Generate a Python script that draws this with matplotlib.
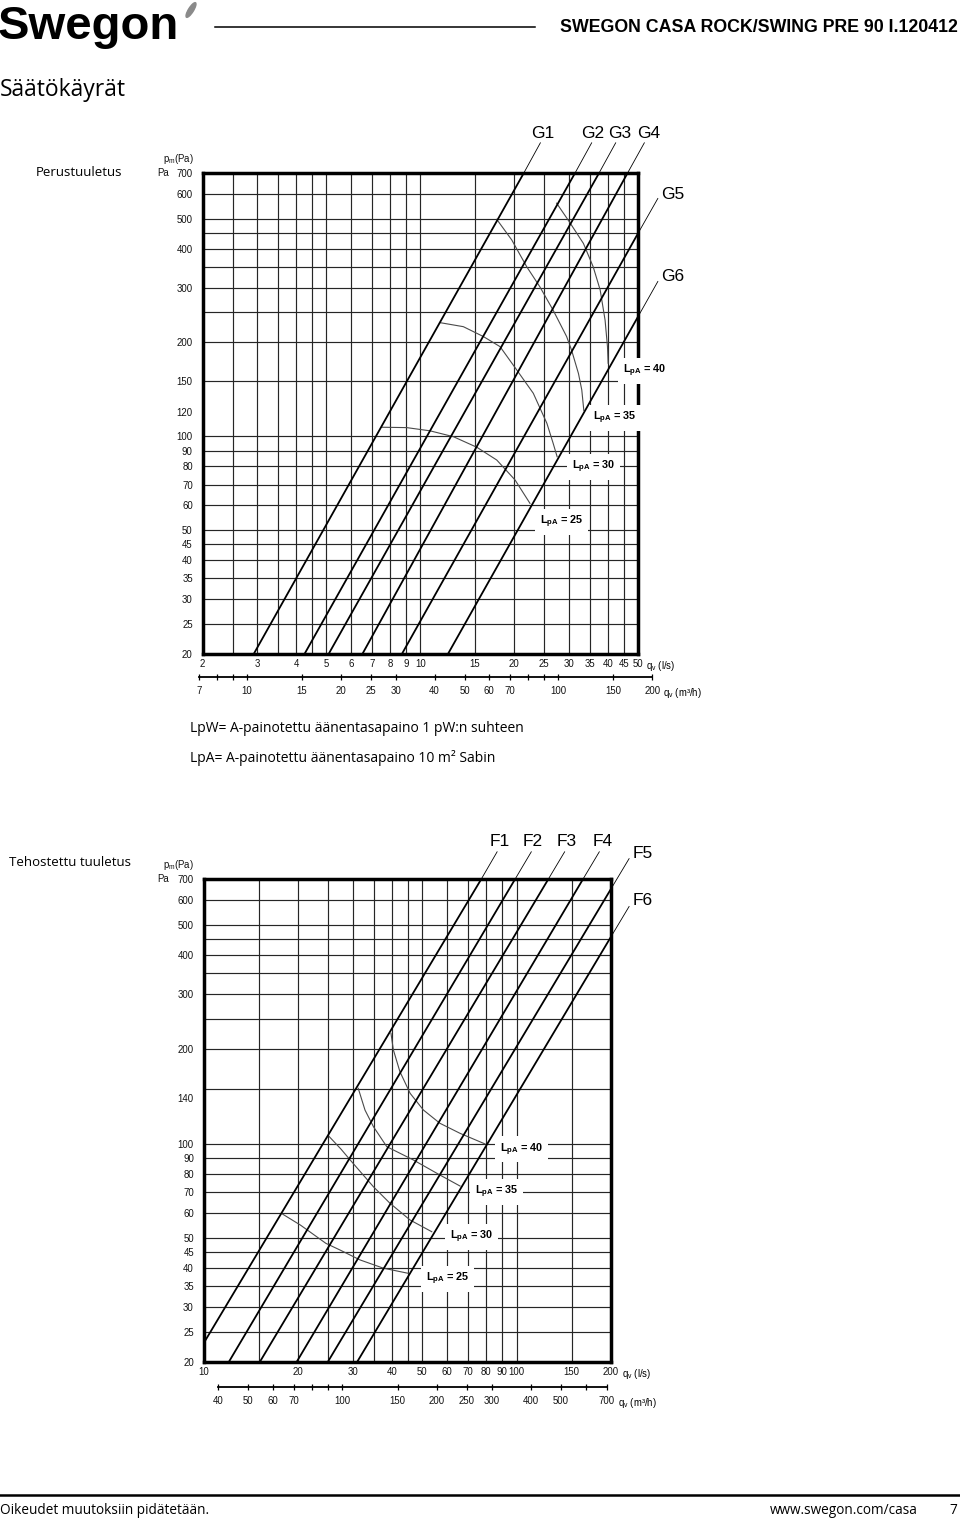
import matplotlib
matplotlib.use('Agg')
import matplotlib.pyplot as plt
from matplotlib.patches import Ellipse
from matplotlib.ticker import NullLocator

plt.rcParams['font.family'] = ['Liberation Sans', 'DejaVu Sans']
plt.rcParams['mathtext.fontset'] = 'custom'
plt.rcParams['mathtext.rm'] = 'Liberation Sans'
plt.rcParams['mathtext.it'] = 'Liberation Sans:italic'
plt.rcParams['mathtext.bf'] = 'Liberation Sans:bold'

# ---------------- chart 1: Perustuuletus ----------------
x1_ticks = [2, 3, 4, 5, 6, 7, 8, 9, 10, 15, 20, 25, 30, 35, 40, 45, 50]
x1_grid = [2.5, 3, 3.5, 4, 4.5, 5, 6, 7, 8, 9, 10, 15, 20, 25, 30, 35, 40, 45]
y1_ticks = [700, 600, 500, 400, 300, 200, 150, 120, 100, 90, 80, 70, 60, 50, 45, 40, 35, 30, 25, 20]
y1_grid = [600, 500, 450, 400, 350, 300, 250, 200, 150, 100, 90, 80, 70, 60, 50, 45, 40, 35, 30, 25]
m1_ticks = [7, 8, 9, 10, 15, 20, 25, 30, 40, 50, 60, 70, 80, 90, 100, 150, 200]
m1_labels = [7, 10, 15, 20, 25, 30, 40, 50, 60, 70, 100, 150, 200]

g_names = ['G1', 'G2', 'G3', 'G4', 'G5', 'G6']
g_q_start = [2.92, 4.25, 5.08, 6.52, 8.73, 12.27]
g_p_start = [20, 20, 20, 20, 20, 20]
g_q_end = [21.5, 31.4, 37.5, 46.3, 50, 50]
g_p_end = [700, 700, 700, 700, 448, 242]
g_q_tip = [24.3, 35.5, 42.4, 52.4, 57.9, 57.9]
g_p_tip = [875, 875, 875, 875, 580, 314]

g_lpa = [40, 35, 30, 25]
g_lpa_q = [[27.4, 30.1, 33.4, 35.9, 37.8, 39.2, 39.9, 40.1],
           [17.6, 19.66, 21.97, 24.2, 26.7, 29.5, 30.6, 32.2, 33.0, 33.5],
           [11.57, 13.75, 15.94, 18.03, 20.4, 23.06, 25.5, 26.7, 27.5],
           [7.52, 9.05, 10.75, 12.77, 15.19, 17.6, 20.15, 22.5]]
g_lpa_p = [[560, 488, 416, 350, 295, 236, 194, 171.5],
           [497, 427, 350, 302, 254, 209, 189, 159, 140.8, 121],
           [231.6, 224.8, 209, 194, 163.3, 137.4, 110, 95, 86],
           [106.9, 106.6, 104.1, 99.7, 92.2, 83.9, 72.4, 60.9]]

# ---------------- chart 2: Tehostettu tuuletus ----------------
x2_ticks = [10, 20, 30, 40, 50, 60, 70, 80, 90, 100, 150, 200]
x2_grid = [15, 20, 25, 30, 35, 40, 45, 50, 60, 70, 80, 90, 100, 150]
y2_ticks = [700, 600, 500, 400, 300, 200, 140, 100, 90, 80, 70, 60, 50, 45, 40, 35, 30, 25, 20]
y2_grid = [600, 500, 450, 400, 350, 300, 250, 200, 150, 100, 90, 80, 70, 60, 50, 45, 40, 35, 30, 25]
m2_ticks = [40, 50, 60, 70, 80, 90, 100, 150, 200, 250, 300, 400, 500, 600, 700]
m2_labels = [40, 50, 60, 70, 100, 150, 200, 250, 300, 400, 500, 700]

f_names = ['F1', 'F2', 'F3', 'F4', 'F5', 'F6']
f_q_start = [10, 12.02, 15.1, 19.8, 24.9, 30.9]
f_p_start = [23, 20, 20, 20, 20, 20]
f_q_end = [77.1, 98.9, 126.3, 163, 200, 200]
f_p_end = [700, 700, 700, 700, 650, 457]
f_q_tip = [86.7, 111.5, 142.5, 183.9, 229, 229]
f_p_tip = [857, 857, 857, 857, 815, 573]

f_lpa = [40, 35, 30, 25]
f_lpa_q = [[39.7, 40.4, 42.4, 45.7, 50.4, 56.9, 66, 79.3],
           [31.2, 32.8, 34.9, 38.5, 46.8, 56.9, 66],
           [25.1, 27.5, 29.6, 34.9, 39.4, 45.7, 53.6],
           [17.9, 20.4, 24.6, 27.3, 31.6, 37.5, 45.1]]
f_lpa_p = [[225.4, 199.6, 169.9, 144.9, 128.1, 116.2, 107.9, 99.8],
           [150.3, 128, 113.3, 97.8, 88.7, 79.4, 73.2],
           [105.8, 96, 88, 72.8, 64.5, 57, 52.3],
           [59.5, 54.9, 48, 45.7, 42.5, 40, 38.5]]

W, H = 960, 1523


def fx(px):
    return px / W


def fy(py):
    return 1 - py / H


fig = plt.figure(figsize=(W / 100, H / 100), dpi=100)


def draw_chart(left, right, top, bottom, xlim, xticks, xgrid, yticks, ygrid,
               q0, p0, q1, p1, qt, pt, names, name_off, lpa, lpa_q, lpa_p, lpa_pos, unit_dx):
    ax = fig.add_axes([fx(left), fy(bottom), fx(right) - fx(left), fy(top) - fy(bottom)])
    ax.set_xscale('log')
    ax.set_yscale('log')
    ax.set_xlim(xlim)
    ax.set_ylim(20, 700)
    for v in xgrid:
        ax.axvline(v, color='#262626', lw=0.85, zorder=1)
    for v in ygrid:
        ax.axhline(v, color='#262626', lw=0.85, zorder=1)
    ax.xaxis.set_minor_locator(NullLocator())
    ax.yaxis.set_minor_locator(NullLocator())
    ax.set_xticks(xticks, [str(v) for v in xticks])
    ax.set_yticks(yticks, [str(v) for v in yticks])
    ax.tick_params(length=0, labelsize=6.9, colors='#111')
    ax.tick_params(axis='x', pad=3.5)
    ax.tick_params(axis='y', pad=7)
    for s in ax.spines.values():
        s.set_linewidth(2.5)
        s.set_zorder(5)

    # pressure lines + leaders to their names
    for i in range(len(names)):
        ax.plot([q0[i], q1[i]], [p0[i], p1[i]], color='black', lw=1.3, zorder=3)
        ax.plot([q1[i], qt[i]], [p1[i], pt[i]], color='black', lw=0.6, zorder=3, clip_on=False)
        ax.annotate(names[i], xy=(qt[i], pt[i]), xytext=name_off[i], textcoords='offset points',
                    ha='center' if i < 4 else 'left', va='center', fontsize=12.5, annotation_clip=False)

    # sound level curves
    for i in range(len(lpa)):
        ax.plot(lpa_q[i], lpa_p[i], color='#4a4a4a', lw=0.8, zorder=2)
        ax.text(lpa_pos[i][0], lpa_pos[i][1], r'L$_{\mathbf{pA}}$ = %d' % lpa[i],
                fontsize=7.8, fontweight='bold', ha='center', va='center', zorder=6,
                bbox=dict(boxstyle='square,pad=0.45', fc='white', ec='none'))

    ax.annotate(r'q$_{\mathrm{v}}$ (l/s)', xy=(1, 0), xycoords='axes fraction', xytext=(unit_dx, -3.5),
                textcoords='offset points', ha='left', va='top', fontsize=6.9)
    return ax


def draw_m3_axis(left, right, ypx, xlim, line_from, line_to, ticks, labels, unit_dx):
    ax2 = fig.add_axes([fx(left), fy(ypx), fx(right) - fx(left), 0.0005])
    ax2.set_xscale('log')
    ax2.set_xlim(xlim)
    ax2.set_ylim(0, 1)
    ax2.axis('off')
    ax2.plot([line_from, line_to], [0, 0], color='black', lw=1.3, clip_on=False)
    ax2.plot(ticks, [0] * len(ticks), '|', color='black', ms=5, mew=0.9, clip_on=False)
    for v in labels:
        ax2.annotate(str(v), xy=(v, 0), xytext=(0, -6), textcoords='offset points',
                     ha='center', va='top', fontsize=6.9, color='#111', annotation_clip=False)
    ax2.annotate(r'q$_{\mathrm{v}}$ (m³/h)', xy=(line_to, 0), xytext=(unit_dx, -6), textcoords='offset points',
                 ha='left', va='top', fontsize=6.9, annotation_clip=False)


# chart 1
g_name_off = [(1.7, 6.5), (1.0, 6.5), (2.9, 6.5), (2.8, 6.5), (2.5, 3.0), (2.5, 3.5)]
g_lpa_pos = [(52.5, 162), (42.2, 114.2), (35.9, 79.9), (28.5, 53.2)]
draw_chart(202.5, 638, 173, 654, (2, 50), x1_ticks, x1_grid, y1_ticks, y1_grid,
           g_q_start, g_p_start, g_q_end, g_p_end, g_q_tip, g_p_tip, g_names, g_name_off,
           g_lpa, g_lpa_q, g_lpa_p, g_lpa_pos, 5.5)
draw_m3_axis(202.5, 638, 677.3, (7.2, 180), 7, 200, m1_ticks, m1_labels, 8)

# chart 2
f_name_off = [(1.9, 7.3), (1.2, 7.3), (1.6, 7.3), (2.3, 7.3), (2.5, 4.0), (2.5, 4.6)]
f_lpa_pos = [(103.7, 95.9), (86.5, 70.2), (71.9, 50.2), (60.1, 36.9)]
draw_chart(203.6, 610.7, 879.3, 1362.3, (10, 200), x2_ticks, x2_grid, y2_ticks, y2_grid,
           f_q_start, f_p_start, f_q_end, f_p_end, f_q_tip, f_p_tip, f_names, f_name_off,
           f_lpa, f_lpa_q, f_lpa_p, f_lpa_pos, 8)
draw_m3_axis(203.6, 610.7, 1387.3, (36, 720), 40, 700, m2_ticks, m2_labels, 8)

# axis captions
for ypx, ylab in [(173, 159), (879.3, 865)]:
    fig.text(fx(169), fy(ypx), 'Pa', fontsize=6.9, ha='right', va='center', color='#111')
    fig.text(fx(194), fy(ylab), r'p$_{\mathrm{m}}$(Pa)', fontsize=6.9, ha='right', va='center', color='#111')

# page texts
body = ['Open Sans', 'DejaVu Sans']
fig.text(-0.002, fy(27), 'Swegon', fontsize=34, fontweight='heavy', ha='left', va='center', color='black')
fig.patches.append(Ellipse((191 / 100, (H - 10) / 100), 0.05, 0.17, angle=-32,
                           transform=fig.dpi_scale_trans, color='#8a8a8a'))
fig.add_artist(plt.Line2D([fx(215), fx(535)], [fy(27), fy(27)], color='black', lw=1.1))
fig.text(fx(958), fy(28), 'SWEGON CASA ROCK/SWING PRE 90 I.120412', fontsize=12.8, fontweight='bold',
         ha='right', va='center')
fig.text(0.0, fy(90), 'Säätökäyrät', fontsize=16.5, family=body, ha='left', va='center')
fig.text(fx(79), fy(172), 'Perustuuletus', fontsize=9.5, family=body, ha='center', va='center')
fig.text(fx(70), fy(863), 'Tehostettu tuuletus', fontsize=9.5, family=body, ha='center', va='center')
fig.text(fx(190), fy(729), 'LpW= A-painotettu äänentasapaino 1 pW:n suhteen', fontsize=10, family=body,
         ha='left', va='center')
fig.text(fx(190), fy(758), 'LpA= A-painotettu äänentasapaino 10 m² Sabin', fontsize=10, family=body,
         ha='left', va='center')

fig.add_artist(plt.Line2D([0, 1], [fy(1495), fy(1495)], color='black', lw=1.8))
fig.text(0.0, fy(1510), 'Oikeudet muutoksiin pidätetään.', fontsize=9.8, family=body, ha='left', va='center')
fig.text(fx(918), fy(1510), 'www.swegon.com/casa', fontsize=9.8, family=body, ha='right', va='center')
fig.text(fx(957), fy(1510), '7', fontsize=9.8, family=body, ha='right', va='center')

fig.savefig('out.png', dpi=100)
